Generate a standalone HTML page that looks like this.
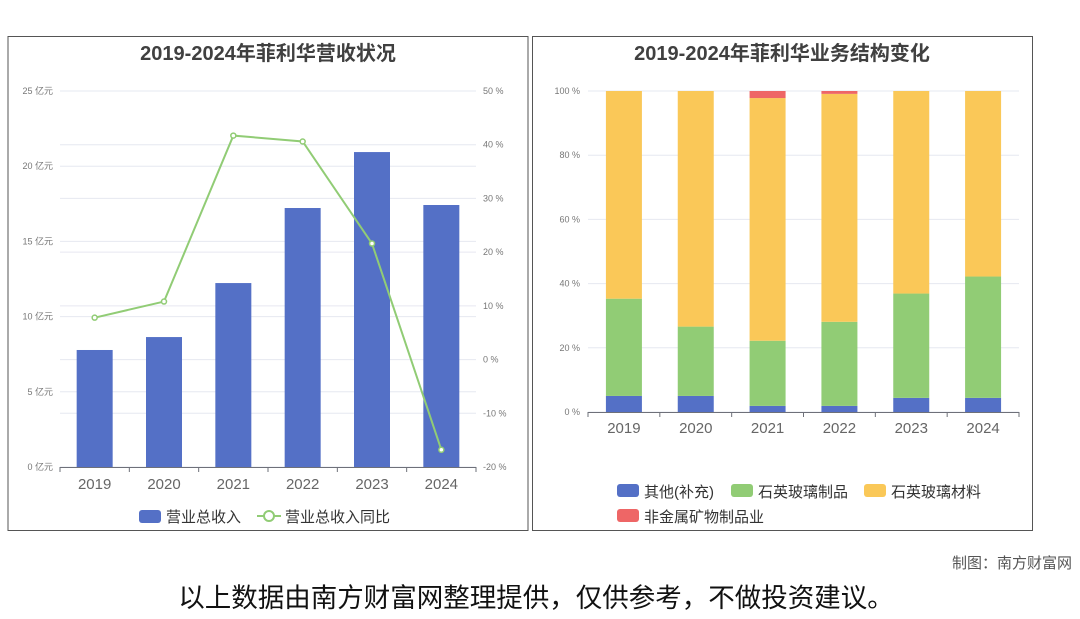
<!DOCTYPE html>
<html><head><meta charset="utf-8"><style>
body{margin:0;background:#fff;width:1080px;height:614px;overflow:hidden;font-family:"Liberation Sans","Noto Sans CJK SC",sans-serif;}
svg text{font-family:"Liberation Sans","Noto Sans CJK SC",sans-serif;}
</style></head><body>
<svg id="s" width="1080" height="614" xmlns="http://www.w3.org/2000/svg">
<rect x="8" y="36.5" width="520" height="494" fill="#fff" stroke="#555"/>
<rect x="532.5" y="36.5" width="500" height="494" fill="#fff" stroke="#555"/>
<text x="268" y="60" text-anchor="middle" font-size="20" font-weight="bold" fill="#404040">2019-2024年菲利华营收状况</text>
<text x="782" y="60" text-anchor="middle" font-size="20" font-weight="bold" fill="#404040">2019-2024年菲利华业务结构变化</text>
<g id="L"></g><g id="R"></g>
<g>
<rect x="139" y="510" width="22" height="13" rx="3" fill="#5470c6"/>
<text x="166" y="522" font-size="15" fill="#333">营业总收入</text>
<line x1="257" y1="516" x2="281" y2="516" stroke="#91cc75" stroke-width="2"/>
<circle cx="269" cy="516" r="5" fill="#fff" stroke="#91cc75" stroke-width="2"/>
<text x="285" y="522" font-size="15" fill="#333">营业总收入同比</text>
</g>
<g>
<rect x="617" y="484" width="22" height="13" rx="3" fill="#5470c6"/>
<text x="644" y="497" font-size="15" fill="#333">其他(补充)</text>
<rect x="731" y="484" width="22" height="13" rx="3" fill="#91cc75"/>
<text x="758" y="497" font-size="15" fill="#333">石英玻璃制品</text>
<rect x="864" y="484" width="22" height="13" rx="3" fill="#fac858"/>
<text x="891" y="497" font-size="15" fill="#333">石英玻璃材料</text>
<rect x="617" y="509" width="22" height="13" rx="3" fill="#ee6666"/>
<text x="644" y="522" font-size="15" fill="#333">非金属矿物制品业</text>
</g>
<text x="1072" y="568" text-anchor="end" font-size="15" fill="#555">制图：南方财富网</text>
<text x="536" y="607" text-anchor="middle" font-size="26.5" fill="#111">以上数据由南方财富网整理提供，仅供参考，不做投资建议。</text>
</svg>
<script>
const years=['2019','2020','2021','2022','2023','2024'];
const revenue=[7.78,8.64,12.23,17.22,20.94,17.42];
const yoy=[7.8,10.8,41.7,40.6,21.6,-16.8];
const leftTicks=[0,5,10,15,20,25];
const rightTicks=[-20,-10,0,10,20,30,40,50];
const other=[5.0,5.0,1.9,1.9,4.4,4.4];
const quartzProducts=[30.3,21.6,20.3,26.2,32.5,37.8];
const quartzMaterial=[64.7,73.4,75.6,71.0,63.1,57.8];
const nonmetal=[0,0,2.2,0.9,0,0];
const pctTicks=[0,20,40,60,80,100];
const NS='http://www.w3.org/2000/svg';
function mk(p,t,a){const e=document.createElementNS(NS,t);for(const k in a)e.setAttribute(k,a[k]);p.appendChild(e);return e;}
const L=document.getElementById('L');
const lx0=60,lx1=476,ly0=467,ly1=91;
const ly=v=>ly0-(v/25)*(ly0-ly1);
const ry=v=>ly0-((v+20)/70)*(ly0-ly1);
const lbw=(lx1-lx0)/years.length;
const lcx=i=>lx0+lbw*(i+0.5);
rightTicks.forEach(t=>{const g=mk(L,'line',{x1:lx0,x2:lx1,y1:ry(t),y2:ry(t),stroke:'#e6e8f0'});

const tx=mk(L,'text',{x:483,y:ry(t)+3,'font-size':9,fill:'#777'});tx.textContent=t+' %';
});
leftTicks.forEach(t=>{const g=mk(L,'line',{x1:lx0,x2:lx1,y1:ly(t),y2:ly(t),stroke:'#e6e8f0'});

const tx=mk(L,'text',{x:53,y:ly(t)+3,'font-size':9,fill:'#777','text-anchor':'end'});tx.textContent=t+' 亿元';
});
revenue.forEach((v,i)=>{const r=mk(L,'rect',{x:lcx(i)-18,y:ly(v),width:36,height:ly0-ly(v),fill:'#5470c6'});
});
mk(L,'line',{x1:lx0,x2:lx1,y1:ly0+.5,y2:ly0+.5,stroke:'#6e7079'});
years.forEach((y,i)=>{mk(L,'line',{x1:lx0+lbw*i,x2:lx0+lbw*i,y1:ly0,y2:ly0+5,stroke:'#6e7079'});
const tx=mk(L,'text',{x:lcx(i),y:489,'font-size':15,fill:'#666','text-anchor':'middle'});tx.textContent=y;
});
mk(L,'line',{x1:lx1,x2:lx1,y1:ly0,y2:ly0+5,stroke:'#6e7079'});
const pl=mk(L,'polyline',{points:yoy.map((v,i)=>lcx(i)+','+ry(v)).join(' '),fill:'none',stroke:'#91cc75','stroke-width':2});

yoy.forEach((v,i)=>{const c=mk(L,'circle',{cx:lcx(i),cy:ry(v),r:2.5,fill:'#fff',stroke:'#91cc75','stroke-width':1.5});
});
const R=document.getElementById('R');
const rx0=588,rx1=1019,p0=412,p1=91;
const py=v=>p0-(v/100)*(p0-p1);
const rbw=(rx1-rx0)/years.length;
const rcx=i=>rx0+rbw*(i+0.5);
pctTicks.forEach(t=>{const g=mk(R,'line',{x1:rx0,x2:rx1,y1:py(t),y2:py(t),stroke:'#e6e8f0'});

const tx=mk(R,'text',{x:580,y:py(t)+3,'font-size':9,fill:'#777','text-anchor':'end'});tx.textContent=t+' %';
});
const series=[[other,'#5470c6','other'],[quartzProducts,'#91cc75','quartz-products'],[quartzMaterial,'#fac858','quartz-material'],[nonmetal,'#ee6666','nonmetal']];
years.forEach((y,i)=>{let base=0;series.forEach(([arr,col,nm])=>{const v=arr[i];if(v>0){
const r=mk(R,'rect',{x:rcx(i)-18,y:py(base+v),width:36,height:py(base)-py(base+v),fill:col});
}base+=v;});});
mk(R,'line',{x1:rx0,x2:rx1,y1:p0+.5,y2:p0+.5,stroke:'#6e7079'});
years.forEach((y,i)=>{mk(R,'line',{x1:rx0+rbw*i,x2:rx0+rbw*i,y1:p0,y2:p0+5,stroke:'#6e7079'});
const tx=mk(R,'text',{x:rcx(i),y:433,'font-size':15,fill:'#666','text-anchor':'middle'});tx.textContent=y;
});
mk(R,'line',{x1:rx1,x2:rx1,y1:p0,y2:p0+5,stroke:'#6e7079'});
</script>
</body></html>
